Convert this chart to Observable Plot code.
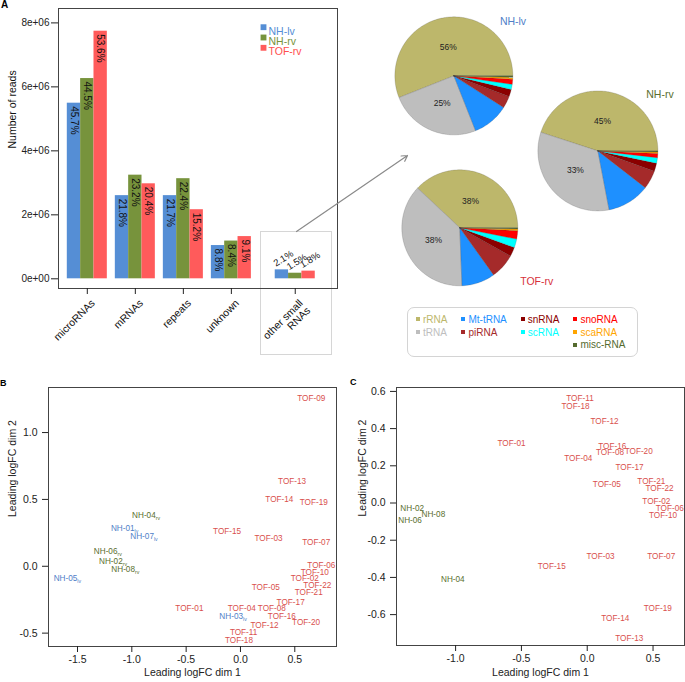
<!DOCTYPE html>
<html><head><meta charset="utf-8">
<script src="https://cdn.jsdelivr.net/npm/d3@7"></script>
<script src="https://cdn.jsdelivr.net/npm/@observablehq/plot@0.6"></script>
<style>
html,body{margin:0;padding:0;background:#fff;}
#root{position:relative;width:685px;height:682px;overflow:hidden;font-family:"Liberation Sans",Arial,sans-serif;color:#222;}
#root svg{overflow:visible;}
.lbl{position:absolute;white-space:nowrap;line-height:1;}
</style></head>
<body><div id="root"></div>
<script>
// ---------------- DATA ----------------
const categories = ["microRNAs","mRNAs","repeats","unknown","other small RNAs"];
const categoryLabels = ["microRNAs","mRNAs","repeats","unknown","other small\nRNAs"];
const seriesNames = ["NH-lv","NH-rv","TOF-rv"];
const readsNHlv  = [5.49e6, 2.60e6, 2.60e6, 1.04e6, 0.28e6];
const readsNHrv  = [6.26e6, 3.24e6, 3.13e6, 1.18e6, 0.175e6];
const readsTOFrv = [7.74e6, 2.97e6, 2.16e6, 1.32e6, 0.24e6];
const pctNHlv  = ["45.7%","21.8%","21.7%","8.8%","2.1%"];
const pctNHrv  = ["44.5%","23.2%","22.4%","8.4%","1.5%"];
const pctTOFrv = ["53.6%","20.4%","15.2%","9.1%","1.8%"];
const yTicksA = [0, 2e6, 4e6, 6e6, 8e6];
const yTickLabelsA = ["0e+00","2e+06","4e+06","6e+06","8e+06"];

const rnaTypes = ["rRNA","tRNA","Mt-tRNA","piRNA","snRNA","scRNA","snoRNA","scaRNA","misc-RNA"];
const pieNHlv  = [56, 25, 10, 3.3, 2.0, 1.4, 1.4, 0.5, 0.4];
const pieNHrv  = [45, 33, 11.5, 5.0, 2.2, 1.5, 1.1, 0.4, 0.3];
const pieTOFrv = [38, 37.6, 9.3, 7.0, 2.6, 2.4, 2.3, 0.5, 0.3];

const mdsBLabels = ["NH-01_lv","NH-02_rv","NH-03_lv","NH-04_rv","NH-05_lv","NH-06_rv","NH-07_lv","NH-08_rv",
  "TOF-01","TOF-02","TOF-03","TOF-04","TOF-05","TOF-06","TOF-07","TOF-08","TOF-09","TOF-10","TOF-11",
  "TOF-12","TOF-13","TOF-14","TOF-15","TOF-16","TOF-17","TOF-18","TOF-19","TOF-20","TOF-21","TOF-22"];
const mdsBDim1 = [-1.066,-1.173,-0.068,-0.869,-1.593,-1.221,-0.888,-1.060,
  -0.470,0.592,0.258,0.012,0.233,0.745,0.697,0.289,0.652,0.684,0.029,
  0.221,0.475,0.358,-0.123,0.381,0.462,-0.014,0.675,0.604,0.628,0.708];
const mdsBDim2 = [0.287,0.040,-0.375,0.382,-0.092,0.115,0.225,-0.020,
  -0.312,-0.092,0.205,-0.317,-0.160,0.007,0.175,-0.317,1.253,-0.045,-0.492,
  -0.442,0.632,0.502,0.260,-0.375,-0.267,-0.554,0.477,-0.417,-0.195,-0.142];
const xTicksB = [-1.5,-1.0,-0.5,0.0,0.5];
const yTicksB = [-0.5,0.0,0.5,1.0];

const mdsCLabels = ["NH-02","NH-04","NH-06","NH-08",
  "TOF-01","TOF-02","TOF-03","TOF-04","TOF-05","TOF-06","TOF-07","TOF-08","TOF-10","TOF-11",
  "TOF-12","TOF-13","TOF-14","TOF-15","TOF-16","TOF-17","TOF-18","TOF-19","TOF-20","TOF-21","TOF-22"];
const mdsCDim1 = [-1.330,-1.021,-1.346,-1.169,
  -0.575,0.525,0.101,-0.068,0.149,0.627,0.562,0.173,0.576,-0.055,
  0.131,0.319,0.213,-0.270,0.190,0.321,-0.089,0.536,0.391,0.487,0.549];
const mdsCDim2 = [-0.029,-0.408,-0.091,-0.063,
  0.322,0.007,-0.287,0.238,0.102,-0.029,-0.287,0.272,-0.064,0.562,
  0.437,-0.730,-0.618,-0.342,0.306,0.191,0.517,-0.564,0.279,0.116,0.078];
const xTicksC = [-1.0,-0.5,0.0,0.5];
const yTicksC = [-0.6,-0.4,-0.2,0.0,0.2,0.4,0.6];

// ---------------- STYLE / LAYOUT ----------------
const FONT = '"Liberation Sans", Arial, sans-serif';
const seriesColors = ["#558ED5","#77933C","#FF5B5B"];
const seriesTextColors = ["#558ED5","#77933C","#FF4F4F"];
const rnaColors = ["#BDB76B","#BEBEBE","#1E90FF","#A52A2A","#8B0000","#00FFFF","#FF0000","#FFA500","#556B2F"];
const groupNames = ["NH-lv","NH-rv","TOF"];
const groupTextColors = {"NH-lv":"#4F80C8","NH-rv":"#5A6E2E","TOF":"#D9504D"};
const pieTitleColors = ["#4F80C8","#5A6E2E","#D7303A"];
const LAYOUT = {
  bar: {left:0, top:0, width:340, height:355},
  callout: {left:260, top:231, width:72, height:124},
  arrowTip: {x:407, y:155},
  pies: [{cx:453.3, cy:75, r:59, title:{x:513, y:21}},
         {cx:597, cy:150, r:60, title:{x:660, y:94}},
         {cx:459.3, cy:227.3, r:58, title:{x:536.7, y:280.7}}],
  legend: {left:407, top:307, width:231, height:50},
  B: {left:0, top:370, width:340, height:312},
  C: {left:340, top:370, width:345, height:312}
};
const root = document.getElementById("root");
function place(el, left, top, z) {
  el.style.position = "absolute"; el.style.left = left + "px"; el.style.top = top + "px";
  if (z) el.style.zIndex = z;
  root.appendChild(el); return el;
}
function label(text, x, y, css) {
  const d = document.createElement("div"); d.className = "lbl"; d.textContent = text;
  d.style.cssText += css; d.style.left = x + "px"; d.style.top = y + "px";
  root.appendChild(d); return d;
}

// ---------------- PANEL A: bars ----------------
const readsBy = {"NH-lv": readsNHlv, "NH-rv": readsNHrv, "TOF-rv": readsTOFrv};
const pctBy = {"NH-lv": pctNHlv, "NH-rv": pctNHrv, "TOF-rv": pctTOFrv};
const OTHER_SHIFT = 0.33, BARW = 0.2778;
const groupPos = categories.map((c, i) => i + (i === categories.length - 1 ? OTHER_SHIFT : 0));
const barData = [];
categories.forEach((c, i) => seriesNames.forEach((s, j) => barData.push({
  cat: c, series: s, value: readsBy[s][i], pct: pctBy[s][i],
  x1: groupPos[i] + (j - 1.5) * BARW, x2: groupPos[i] + (j - 0.5) * BARW,
  xc: groupPos[i] + (j - 1) * BARW, other: i === categories.length - 1
})));
const tickLabelData = categories.map((c, i) => ({x: groupPos[i], label: categoryLabels[i]}));

const callout = document.createElement("div");
callout.style.cssText = `width:${LAYOUT.callout.width}px;height:${LAYOUT.callout.height}px;box-sizing:border-box;border:1px solid #d6d6d6;`;
place(callout, LAYOUT.callout.left, LAYOUT.callout.top, 1);

const plotA = Plot.plot({
  width: LAYOUT.bar.width, height: LAYOUT.bar.height,
  marginLeft: 58, marginRight: 3, marginTop: 8, marginBottom: 67,
  style: {fontFamily: FONT, fontSize: "10px", background: "none", color: "#222"},
  x: {type: "linear", domain: [-0.6, 5.21]},
  y: {domain: [-0.303e6, 8.45e6]},
  color: {domain: seriesNames, range: seriesColors},
  marks: [
    Plot.rect(barData, {x1: "x1", x2: "x2", y1: 0, y2: "value", fill: "series"}),
    Plot.text(barData.filter(d => !d.other), {x: "xc", y: "value", text: "pct", rotate: 90,
      textAnchor: "start", lineAnchor: "middle", dy: 3, fill: "#111", fontSize: 10}),
    Plot.text(barData.filter(d => d.other), {x: "xc", y: "value", text: "pct", rotate: -32,
      textAnchor: "start", lineAnchor: "bottom", dx: -6, dy: -3, fill: "#111", fontSize: 9.5}),
    Plot.frame({stroke: "#444"}),
    Plot.axisY({ticks: yTicksA, tickFormat: d => yTickLabelsA[yTicksA.indexOf(d)], tickSize: 7, tickPadding: 2, label: null, fontSize: 10}),
    Plot.axisX({ticks: groupPos, tickFormat: () => "", tickSize: 6, label: null}),
    Plot.text(tickLabelData, {x: "x", frameAnchor: "bottom", text: "label", rotate: -45,
      textAnchor: "end", lineAnchor: "top", dy: 10, dx: 3, fontSize: 10.5, fill: "#111"}),
    Plot.text(["Number of reads"], {frameAnchor: "left", dx: -46, rotate: -90, text: d => d,
      lineAnchor: "middle", fontSize: 10.5, fill: "#111"}),
    ...seriesNames.map((s, i) => Plot.dot([s], {frameAnchor: "top-left", dx: 205, dy: 18.7 + i * 10.3,
      symbol: "square", r: 3.3, fill: seriesColors[i], stroke: "none"})),
    ...seriesNames.map((s, i) => Plot.text([s], {frameAnchor: "top-left", dx: 210, dy: 18.7 + i * 10.3,
      text: d => d, fill: seriesTextColors[i], textAnchor: "start", fontSize: 10.5}))
  ]
});
place(plotA, LAYOUT.bar.left, LAYOUT.bar.top, 2);

// ---------------- PANEL A: pies ----------------
function piePlot(values, r) {
  const k = 1.04, total = d3.sum(values);
  let a = 0; const polys = [];
  values.forEach((v, i) => {
    const a0 = a, a1 = a + v / total * 2 * Math.PI; a = a1;
    const n = Math.max(2, Math.ceil((a1 - a0) / (Math.PI / 180)));
    const pts = [{x: 0, y: 0}];
    for (let s = 0; s <= n; s++) { const t = a0 + (a1 - a0) * s / n; pts.push({x: Math.cos(t), y: Math.sin(t)}); }
    pts.push({x: 0, y: 0});
    polys.push({type: rnaTypes[i], color: rnaColors[i], pts, mid: (a0 + a1) / 2, frac: v / total});
  });
  const size = 2 * r * k;
  return Plot.plot({
    width: size, height: size, margin: 0,
    style: {fontFamily: FONT, fontSize: "10px", background: "none"},
    x: {domain: [-k, k], axis: null}, y: {domain: [-k, k], axis: null},
    marks: [
      ...polys.map(p => Plot.line(p.pts, {x: "x", y: "y", fill: p.color, stroke: "#333",
        strokeWidth: 0.4, strokeOpacity: 0.45, curve: "linear"})),
      Plot.text(polys.filter(p => p.frac > 0.15), {x: p => 0.5 * Math.cos(p.mid), y: p => 0.5 * Math.sin(p.mid),
        text: p => Math.round(p.frac * 100) + "%", fontSize: 8.5, fill: "#222"})
    ]
  });
}
[pieNHlv, pieNHrv, pieTOFrv].forEach((vals, i) => {
  const L = LAYOUT.pies[i];
  const p = piePlot(vals, L.r);
  place(p, L.cx - L.r * 1.04, L.cy - L.r * 1.04, 2);
  const t = label(seriesNames[i], L.title.x, L.title.y, `font-size:10.5px;color:${pieTitleColors[i]};transform:translate(-50%,-50%);`);
  t.style.zIndex = 3;
});

// pie legend
const lg = document.createElement("div");
lg.style.cssText = `width:${LAYOUT.legend.width}px;height:${LAYOUT.legend.height}px;box-sizing:border-box;border:1px solid #d4d4d4;border-radius:7px;padding:6px 0 0 8px;display:flex;gap:14px;font-size:10px;line-height:12.6px;`;
const cols = [[], [], [], []];
rnaTypes.forEach((t, i) => cols[Math.min(Math.floor(i / 2), 3)].push(i));
cols.forEach(col => {
  const cd = document.createElement("div");
  col.forEach(i => {
    const it = document.createElement("div");
    it.style.cssText = `color:${rnaColors[i]};white-space:nowrap;`;
    const sw = document.createElement("span");
    sw.style.cssText = `display:inline-block;width:4px;height:4px;background:${rnaColors[i]};margin-right:3px;vertical-align:middle;position:relative;top:-1px;`;
    it.appendChild(sw); it.appendChild(document.createTextNode(rnaTypes[i]));
    cd.appendChild(it);
  });
  lg.appendChild(cd);
});
place(lg, LAYOUT.legend.left, LAYOUT.legend.top, 2);

// arrow overlay
const arrowSpec = [{x1: LAYOUT.callout.left + LAYOUT.callout.width / 2, y1: LAYOUT.callout.top,
  x2: LAYOUT.arrowTip.x, y2: LAYOUT.arrowTip.y}];
const overlay = Plot.plot({
  width: 685, height: 682, margin: 0,
  style: {background: "none"},
  x: {domain: [0, 685], range: [0, 685], axis: null},
  y: {domain: [0, 682], range: [0, 682], axis: null},
  marks: [Plot.arrow(arrowSpec, {x1: "x1", y1: "y1", x2: "x2", y2: "y2", stroke: "#8a8a8a", strokeWidth: 1.2, headLength: 8})]
});
overlay.style.pointerEvents = "none";
place(overlay, 0, 0, 4);

// ---------------- PANELS B and C ----------------
function groupOf(lbl) {
  if (lbl.startsWith("TOF")) return "TOF";
  if (lbl.endsWith("_lv")) return "NH-lv";
  return "NH-rv";
}
function mdsPlot(labels, d1, d2, opts) {
  const data = labels.map((l, i) => ({label: l, x: d1[i], y: d2[i], g: groupOf(l)}));
  const svg = Plot.plot({
    width: opts.width, height: opts.height,
    marginLeft: opts.ml, marginRight: opts.mr, marginTop: opts.mt, marginBottom: opts.mb,
    style: {fontFamily: FONT, fontSize: "10px", background: "none", color: "#222"},
    x: {domain: opts.xd}, y: {domain: opts.yd},
    marks: [
      Plot.frame({stroke: "#444"}),
      Plot.axisX({ticks: opts.xt, tickFormat: d => d.toFixed(1), tickSize: 6, tickPadding: 3, label: null, fontSize: 10.5}),
      Plot.axisY({ticks: opts.yt, tickFormat: d => d.toFixed(1), tickSize: 6, tickPadding: 5, label: null, fontSize: 10.5}),
      ...groupNames.map(g => Plot.text(data.filter(d => d.g === g), {x: "x", y: "y", text: "label",
        fill: groupTextColors[g], fontSize: 8.2})),
      Plot.text(["Leading logFC dim 1"], {frameAnchor: "bottom", dy: opts.xlabDy, text: d => d, fontSize: 10.5, fill: "#222"}),
      Plot.text(["Leading logFC dim 2"], {frameAnchor: "left", dx: opts.ylabDx, rotate: -90, text: d => d, fontSize: 10.5, fill: "#222"})
    ]
  });
  d3.select(svg).selectAll("text").each(function () {
    const t = this.textContent;
    if (/^NH-\d\d_(lv|rv)$/.test(t)) {
      const [a, b] = t.split("_");
      this.textContent = "";
      d3.select(this).append("tspan").text(a);
      d3.select(this).append("tspan").attr("font-size", 5.2).attr("dy", 2).text(b);
    }
  });
  return svg;
}
const plotB = mdsPlot(mdsBLabels, mdsBDim1, mdsBDim2, {
  width: LAYOUT.B.width, height: LAYOUT.B.height, ml: 48, mr: 4, mt: 17, mb: 36,
  xd: [-1.767, 0.884], yd: [-0.6, 1.337], xt: xTicksB, yt: yTicksB, xlabDy: 29, ylabDx: -36
});
place(plotB, LAYOUT.B.left, LAYOUT.B.top, 2);
const plotC = mdsPlot(mdsCLabels, mdsCDim1, mdsCDim2, {
  width: LAYOUT.C.width, height: LAYOUT.C.height, ml: 56, mr: 1, mt: 17, mb: 37,
  xd: [-1.449, 0.739], yd: [-0.766, 0.621], xt: xTicksC, yt: yTicksC, xlabDy: 30.5, ylabDx: -34
});
place(plotC, LAYOUT.C.left, LAYOUT.C.top, 2);

// panel letters
label("A", 1, 0, "font-size:10px;font-weight:bold;color:#000;z-index:5;");
label("B", 0, 379, "font-size:9px;font-weight:bold;color:#000;z-index:5;");
label("C", 350, 378, "font-size:9px;font-weight:bold;color:#000;z-index:5;");
</script>
</body></html>
